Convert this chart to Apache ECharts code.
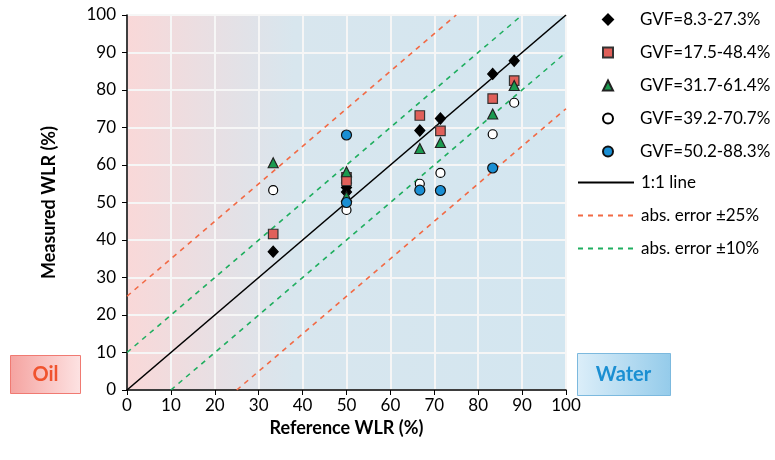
<!DOCTYPE html>
<html><head><meta charset="utf-8">
<script src="https://cdn.jsdelivr.net/npm/echarts@6/dist/echarts.min.js"></script>
<style>html,body{margin:0;padding:0;background:#fff}#c{width:775px;height:460px}</style>
</head><body><div id="c"></div>
<script>
const seriesNames = ['GVF=8.3-27.3%','GVF=17.5-48.4%','GVF=31.7-61.4%','GVF=39.2-70.7%','GVF=50.2-88.3%'];
const gvfA = [[33.3,36.9],[50,55.2],[50,54.0],[50,52.8],[66.7,69.2],[71.4,72.4],[83.3,84.3],[88.2,87.8]];
const gvfB = [[33.3,41.6],[50,56.7],[50,55.8],[66.7,73.2],[71.4,69.1],[83.3,77.7],[88.2,82.5]];
const gvfC = [[33.3,60.6],[50,58.2],[50,51.6],[66.7,64.4],[71.4,66.0],[83.3,73.6],[88.2,81.2]];
const gvfD = [[33.3,53.3],[50,48.0],[66.7,55.0],[71.4,57.9],[83.3,68.2],[88.2,76.6]];
const gvfE = [[50,68.0],[50,50.0],[66.7,53.3],[71.4,53.2],[83.3,59.2]];
const lineNames = ['1:1 line','abs. error ±25%','abs. error ±10%'];
const oneToOne = [[0,0],[100,100]];
const err25Up = [[0,25],[75,100]];
const err25Down = [[25,0],[100,75]];
const err10Up = [[0,10],[90,100]];
const err10Down = [[10,0],[100,90]];
const axisTicks = {min:0,max:100,interval:10};

const FONT = 'Lato';
const chart = echarts.init(document.getElementById('c'));
const red = '#f26a45', green = '#1fae5f';
function lineS(name, data, color, type){
  return {name, type:'line', data, symbol:'none', showSymbol:false, z:1, silent:true,
    lineStyle:{color, width:1.6, type: type==='solid'?'solid':[5,5]}, itemStyle:{color}};
}
function sc(name, data, symbol, size, fill, border){
  return {name, type:'scatter', data, symbol, symbolSize:size, z:3,
    itemStyle:{color:fill, borderColor:border, borderWidth:1.2, opacity:1}};
}
chart.setOption({
  animation:false,
  textStyle:{fontFamily:FONT},
  grid:{left:127,right:209,top:15,bottom:70,show:true,borderWidth:0,
    backgroundColor:new echarts.graphic.LinearGradient(0,0,1,0,[
      {offset:0,color:'#f9d8d8'},{offset:0.38,color:'#d8e6ee'},{offset:1,color:'#d3e6f0'}])},
  xAxis:{type:'value',min:axisTicks.min,max:axisTicks.max,interval:axisTicks.interval,
    name:'Reference WLR (%)',nameLocation:'middle',nameGap:24,
    nameTextStyle:{fontFamily:FONT,fontWeight:'bold',fontSize:18,color:'#000'},
    axisLine:{lineStyle:{color:'#000',width:1.5}},axisTick:{show:true,length:5,lineStyle:{color:'#000'}},
    axisLabel:{color:'#000',fontSize:17,margin:7,fontFamily:FONT},
    splitLine:{show:true,lineStyle:{color:'#f6f6f6',width:2}}},
  yAxis:{type:'value',min:axisTicks.min,max:axisTicks.max,interval:axisTicks.interval,
    name:'Measured WLR (%)',nameLocation:'middle',nameGap:69,
    nameTextStyle:{fontFamily:FONT,fontWeight:'bold',fontSize:18,color:'#000'},
    axisLine:{show:true,lineStyle:{color:'#000',width:1.5}},axisTick:{show:true,length:5,lineStyle:{color:'#000'}},
    axisLabel:{color:'#000',fontSize:17,margin:11,fontFamily:FONT},
    splitLine:{show:true,lineStyle:{color:'#f6f6f6',width:2}}},
  legend:[
    {data:seriesNames,orient:'vertical',left:602,top:11,padding:0,itemWidth:10,itemHeight:10,itemGap:16,
     textStyle:{fontSize:17,color:'#000',fontFamily:FONT,padding:[0,0,0,22]}},
    {data:lineNames,orient:'vertical',left:577,top:174,padding:0,itemWidth:56,itemHeight:12,itemGap:16,
     itemStyle:{opacity:0},
     textStyle:{fontSize:17,color:'#000',fontFamily:FONT,padding:[0,0,0,2]}}
  ],
  series:[
    lineS(lineNames[1], err25Up, red, 'dash'),
    lineS(lineNames[1], err25Down, red, 'dash'),
    lineS(lineNames[2], err10Up, green, 'dash'),
    lineS(lineNames[2], err10Down, green, 'dash'),
    lineS(lineNames[0], oneToOne, '#000', 'solid'),
    sc(seriesNames[0], gvfA, 'diamond', [10,11], '#000', '#000'),
    sc(seriesNames[1], gvfB, 'rect', 9.5, '#e0605a', '#333'),
    sc(seriesNames[2], gvfC, 'triangle', 10, '#1a9a4f', '#222'),
    sc(seriesNames[3], gvfD, 'circle', 9, '#fff', '#000'),
    sc(seriesNames[4], gvfE, 'circle', 10, '#1a8fd4', '#111')
  ],
  graphic:[
    {type:'group',left:10,top:355,children:[
      {type:'rect',shape:{x:0,y:0,width:70,height:38},
       style:{fill:new echarts.graphic.LinearGradient(0,0,1,0,[{offset:0,color:'#f5a3a0'},{offset:1,color:'#fde3e3'}]),stroke:'#f07a72',lineWidth:1}},
      {type:'text',style:{x:35,y:19,text:'Oil',align:'center',verticalAlign:'middle',fill:'#f0532e',font:'bold 20px '+FONT}}
    ]},
    {type:'group',left:577,top:353,children:[
      {type:'rect',shape:{x:0,y:0,width:93,height:42},
       style:{fill:new echarts.graphic.LinearGradient(0,0,1,0,[{offset:0,color:'#dceef9'},{offset:1,color:'#94cbea'}]),stroke:'#7cb9de',lineWidth:1}},
      {type:'text',style:{x:46,y:21,text:'Water',align:'center',verticalAlign:'middle',fill:'#1b8fd2',font:'bold 20px '+FONT}}
    ]}
  ]
});
</script></body></html>
